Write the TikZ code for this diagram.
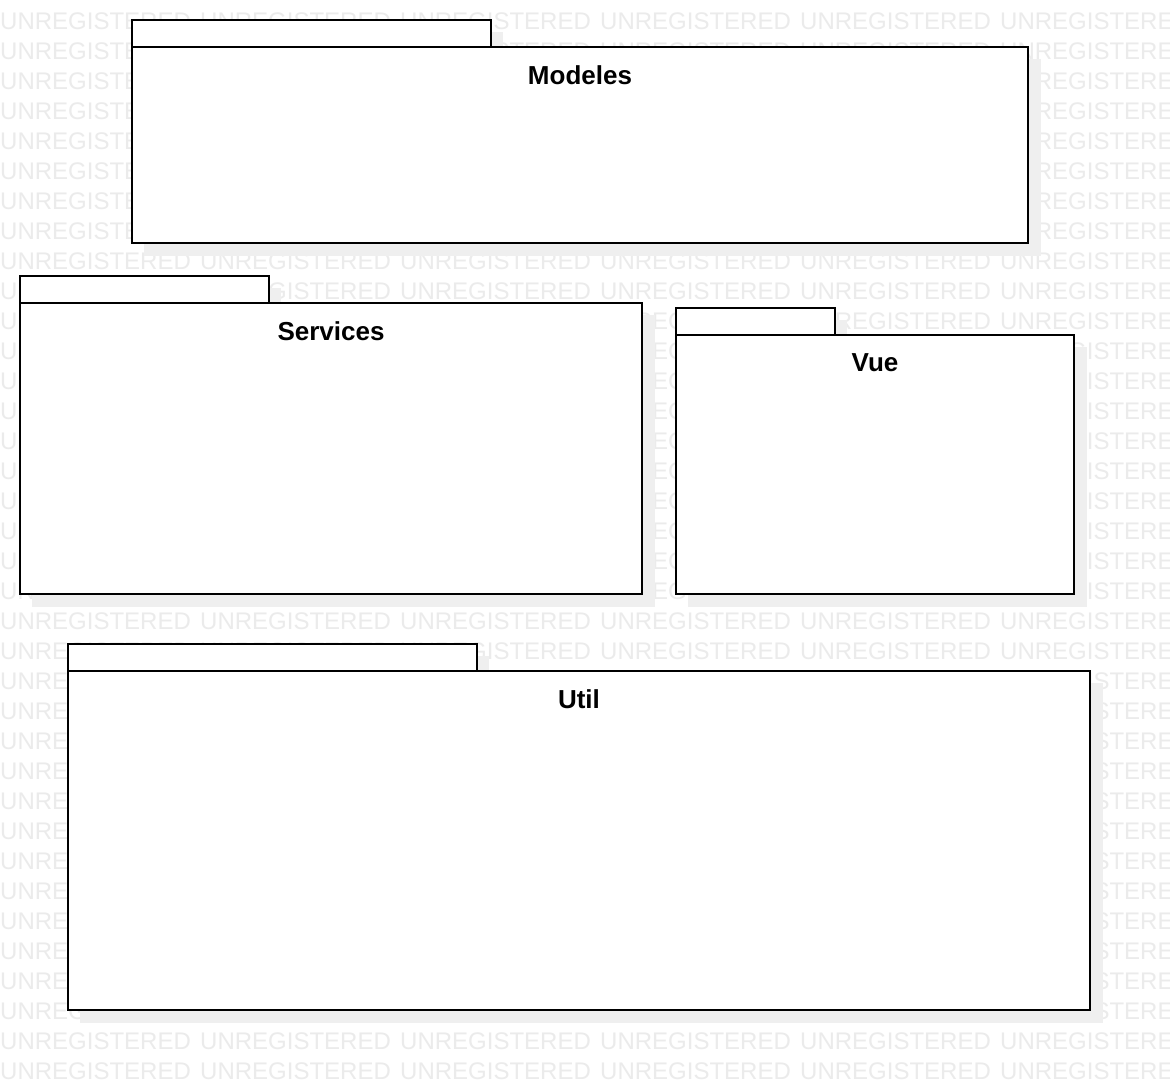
\documentclass[tikz,border=0pt]{standalone}
\usepackage{fontspec}
\setmainfont{Liberation Sans}
\usepackage{tikz}
\usetikzlibrary{positioning}
\definecolor{wmark}{HTML}{EBEBEB}
\definecolor{shade}{HTML}{EFEFEF}
\tikzset{
  pkgshape/.style={draw=black,fill=white,line width=1.8pt},
  pkgshadow/.style={fill=shade},
  pkglabel/.style={font=\bfseries\fontsize{26}{26}\selectfont,anchor=center,inner sep=0pt},
  wmarktext/.style={text=wmark,font=\fontsize{24}{24}\selectfont,anchor=base west,inner sep=0pt}
}
% #1 name, #2 left x, #3 tab top y, #4 tab right x, #5 body right x, #6 body bottom y, #7 label
\newcommand{\umlpackage}[7]{%
  \fill[pkgshadow] (#2+12,#3+12) rectangle (#4+12,#3+39);
  \fill[pkgshadow] (#2+12,#3+39) rectangle (#5+13,#6+13);
  \draw[pkgshape] (#2,#3) rectangle (#4,#3+27);
  \draw[pkgshape] (#2,#3+27) rectangle (#5,#6);
  \node[pkglabel] (#1) at ({(#2+#5)/2},#3+55) {#7};
}

\begin{document}
\begin{tikzpicture}[x=1pt,y=-1pt]
\useasboundingbox[fill=white] (0,0) rectangle (1170,1090);
% watermark
\foreach \row in {0,...,35}
  \foreach \col in {0,...,5}
    \node[wmarktext] (wm-\row-\col) at (200*\col,29.5+30*\row) {UNREGISTERED};
% packages
\umlpackage{modeles}{132}{20}{491}{1028}{243}{Modeles}
\umlpackage{services}{20}{276}{269}{642}{594}{Services}
\umlpackage{vue}{676}{308}{835}{1074}{594}{Vue}
\umlpackage{util}{68}{644}{477}{1090}{1010}{Util}
\end{tikzpicture}
\end{document}
